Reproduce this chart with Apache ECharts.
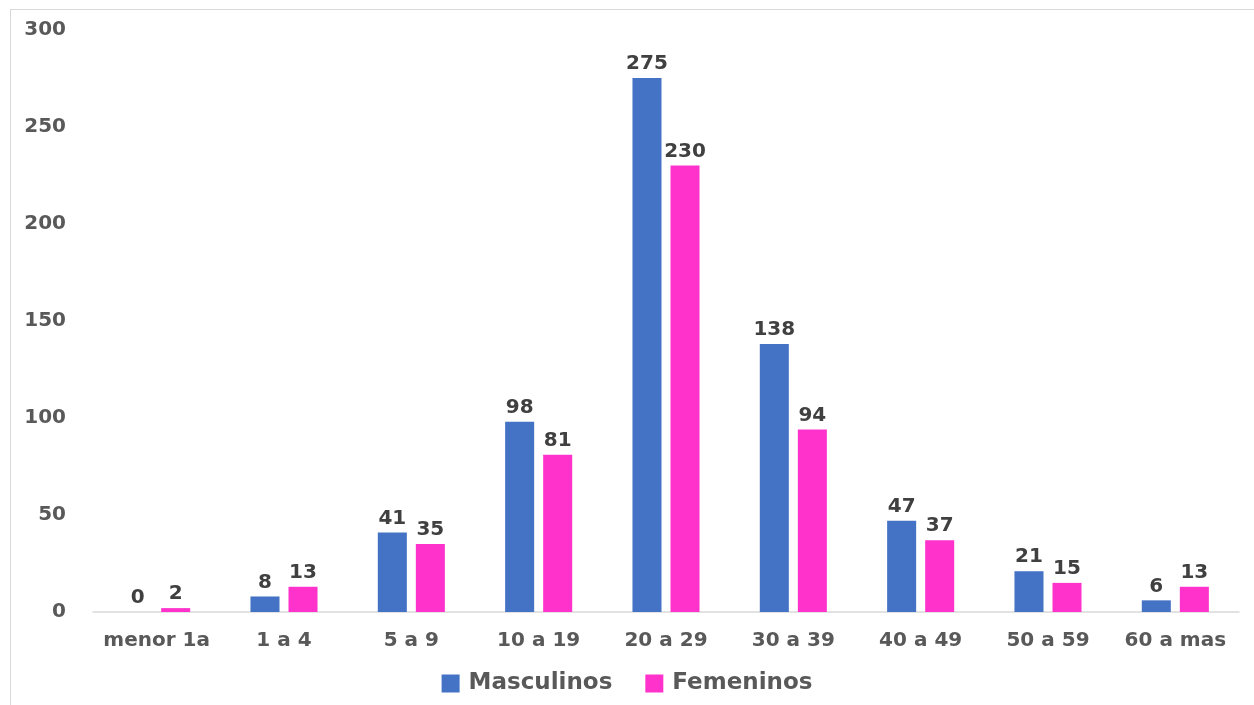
<!DOCTYPE html>
<html>
<head>
<meta charset="utf-8">
<script src="https://cdn.jsdelivr.net/npm/echarts@6/dist/echarts.min.js"></script>
<style>
  html, body { margin: 0; padding: 0; background: #fff; }
  #frame { position: absolute; left: 10px; top: 9px; width: 1244px; height: 696px;
           border-left: 1px solid #d9d9d9; border-top: 1px solid #d9d9d9; }
  #chart { position: absolute; left: 0; top: 0; width: 1254px; height: 705px; }
</style>
</head>
<body>
<div id="frame"></div>
<div id="chart"></div>
<script>
// grupos de edad
const categorias = ['menor 1a', '1 a 4', '5 a 9', '10 a 19', '20 a 29', '30 a 39', '40 a 49', '50 a 59', '60 a mas'];
const masculinos = [0, 8, 41, 98, 275, 138, 47, 21, 6];
const femeninos = [2, 13, 35, 81, 230, 94, 37, 15, 13];
const ejeY = { min: 0, max: 300, interval: 50 };

const fuente = 'DejaVu Sans';
const chart = echarts.init(document.getElementById('chart'));

const etiqueta = {
  show: true,
  position: 'top',
  distance: 4,
  fontFamily: fuente,
  fontWeight: 'bold',
  fontSize: 20,
  color: '#404040'
};

chart.setOption({
  animation: false,
  textStyle: { fontFamily: fuente },
  grid: { left: 93, right: 15, top: 29.5, bottom: 93, containLabel: false },
  legend: {
    bottom: 5,
    left: 'center',
    itemWidth: 18,
    itemHeight: 18,
    itemGap: 33,
    icon: 'rect',
    textStyle: { fontFamily: fuente, fontSize: 23, fontWeight: 'bold', color: '#595959', padding: [0, 0, 0, 4] },
    data: ['Masculinos', 'Femeninos']
  },
  xAxis: {
    type: 'category',
    data: categorias,
    axisLine: { lineStyle: { color: '#d9d9d9', width: 1.5 } },
    axisTick: { show: false },
    axisLabel: { interval: 0, margin: 19, fontFamily: fuente, fontWeight: 'bold', fontSize: 20, color: '#595959' }
  },
  yAxis: {
    type: 'value',
    min: ejeY.min,
    max: ejeY.max,
    interval: ejeY.interval,
    axisLine: { show: false },
    axisTick: { show: false },
    splitLine: { show: false },
    axisLabel: { margin: 27, fontFamily: fuente, fontWeight: 'bold', fontSize: 20, color: '#595959' }
  },
  series: [
    {
      name: 'Masculinos', type: 'bar', data: masculinos,
      barWidth: '22.8%', barGap: '31%',
      itemStyle: { color: '#4472C4' },
      label: etiqueta
    },
    {
      name: 'Femeninos', type: 'bar', data: femeninos,
      barWidth: '22.8%',
      itemStyle: { color: '#FF33CC' },
      label: etiqueta
    }
  ]
});
</script>
</body>
</html>
